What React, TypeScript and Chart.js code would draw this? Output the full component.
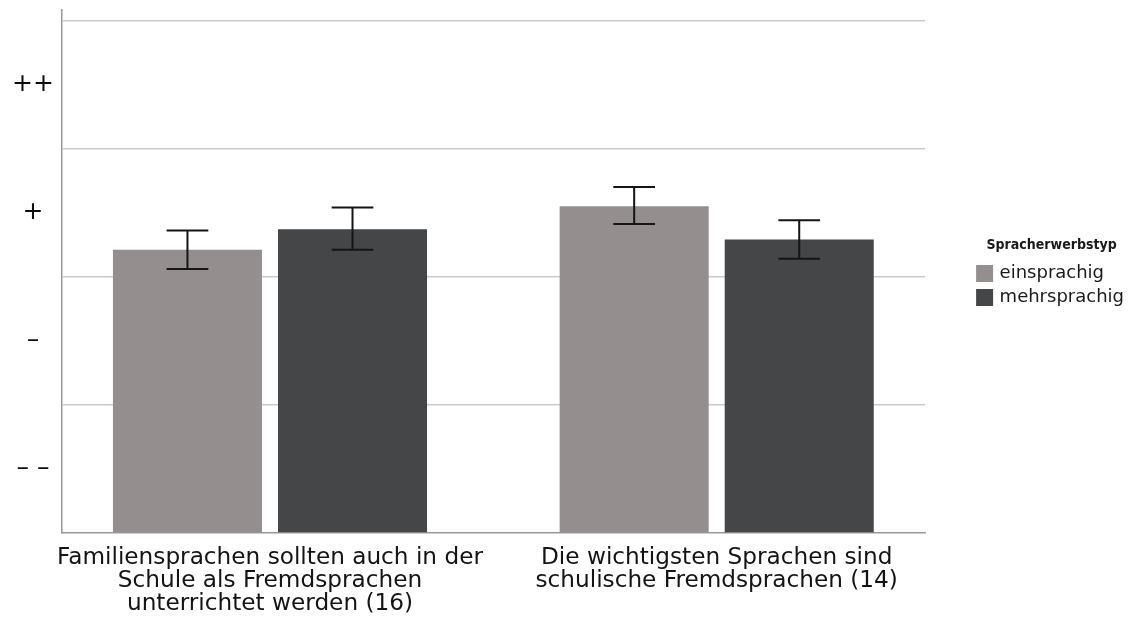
import React, { useEffect, useRef } from 'react';
import { Chart, registerables } from 'chart.js';

Chart.register(...registerables);

// ---- data ----
const categoryLabels: string[][] = [
  ['Familiensprachen sollten auch in der', 'Schule als Fremdsprachen', 'unterrichtet werden (16)'],
  ['Die wichtigsten Sprachen sind', 'schulische Fremdsprachen (14)'],
];
const categoryIndex = [0, 1];
const seriesNames = ['einsprachig', 'mehrsprachig'];
const seriesColors = ['#948f8e', '#454648'];

const einsprachigMean = [2.21, 2.55];
const einsprachigLow = [2.06, 2.41];
const einsprachigHigh = [2.36, 2.7];

const mehrsprachigMean = [2.37, 2.29];
const mehrsprachigLow = [2.21, 2.14];
const mehrsprachigHigh = [2.54, 2.44];

const yGridValues = [0, 1, 2, 3, 4];
const yLabelValues = [0.5, 1.5, 2.5, 3.5];
const yTickLabels = ['– –', '–', '+', '++'];
const legendTitle = 'Spracherwerbstyp';

const meanSeries = [einsprachigMean, mehrsprachigMean];
const lowSeries = [einsprachigLow, mehrsprachigLow];
const highSeries = [einsprachigHigh, mehrsprachigHigh];

const FONT = "'DejaVu Sans', 'Noto Sans', sans-serif";

const errorBarPlugin = {
  id: 'errorBars',
  afterDatasetsDraw(chart: any) {
    const ctx = chart.ctx;
    const yScale = chart.scales.y;
    ctx.save();
    ctx.strokeStyle = '#151515';
    ctx.lineWidth = 2;
    chart.data.datasets.forEach((_ds: any, di: number) => {
      const meta = chart.getDatasetMeta(di);
      meta.data.forEach((bar: any, i: number) => {
        const x = bar.x;
        const half = bar.width * 0.14;
        const yHi = yScale.getPixelForValue(highSeries[di][i]);
        const yLo = yScale.getPixelForValue(lowSeries[di][i]);
        ctx.beginPath();
        ctx.moveTo(x, yHi);
        ctx.lineTo(x, yLo);
        ctx.moveTo(x - half, yHi);
        ctx.lineTo(x + half, yHi);
        ctx.moveTo(x - half, yLo);
        ctx.lineTo(x + half, yLo);
        ctx.stroke();
      });
    });
    ctx.restore();
  },
};

export default function App() {
  const ref = useRef<HTMLCanvasElement | null>(null);

  useEffect(() => {
    if (!ref.current) return;
    const chart = new Chart(ref.current, {
      type: 'bar',
      data: {
        datasets: seriesNames.map((name, di) => ({
          label: name,
          data: categoryIndex.map((x, i) => ({ x, y: meanSeries[di][i] })),
          backgroundColor: seriesColors[di],
          borderWidth: 0,
          categoryPercentage: 0.739,
          barPercentage: 0.903,
        })),
      },
      options: {
        responsive: false,
        animation: false,
        layout: { padding: { top: 10, right: 6.4, bottom: 0, left: 0 } },
        plugins: {
          tooltip: { enabled: false },
          legend: {
            position: 'right',
            align: 'center',
            fullSize: false,
            maxWidth: 158,
            title: {
              display: true,
              text: legendTitle,
              position: 'center',
              color: '#1a1a1a',
              font: { family: "'DejaVu Sans Condensed', 'Liberation Sans Narrow', sans-serif", size: 14, weight: 'bold', lineHeight: 1.2 },
              padding: { top: 8, bottom: 3.2 },
            },
            labels: {
              boxWidth: 12,
              boxHeight: 12,
              padding: 6,
              color: '#1a1a1a',
              font: { family: FONT, size: 18 },
              generateLabels: (c: any) =>
                (Chart as any).defaults.plugins.legend.labels
                  .generateLabels(c)
                  .map((it: any) => ({ ...it, lineWidth: 5, strokeStyle: it.fillStyle })),
            },
          },
        },
        scales: {
          x: {
            type: 'linear',
            min: -0.4656,
            max: 1.4663,
            bounds: 'data',
            offset: false,
            afterBuildTicks: (s: any) => {
              s.ticks = categoryIndex.map((v) => ({ value: v }));
            },
            afterFit: (s: any) => {
              s.height = 84;
              s.paddingLeft = 0;
              s.paddingRight = 0;
            },
            grid: { display: false, drawTicks: false, offset: false },
            border: { display: true, color: '#999999', width: 1.5 },
            ticks: {
              autoSkip: false,
              maxRotation: 0,
              minRotation: 0,
              padding: 13,
              color: '#141414',
              font: { family: FONT, size: 23.2, lineHeight: 1.005 },
              callback: (v: any) => categoryLabels[categoryIndex.indexOf(Number(v))] ?? '',
            },
          },
          y: {
            type: 'linear',
            min: 0,
            max: 4.08,
            bounds: 'data',
            afterBuildTicks: (s: any) => {
              s.ticks = [...yGridValues, ...yLabelValues].sort((a, b) => a - b).map((v) => ({ value: v }));
            },
            afterFit: (s: any) => {
              s.width = 62;
              s.paddingTop = 0;
              s.paddingBottom = 0;
            },
            grid: {
              drawTicks: false,
              lineWidth: 1.5,
              color: (ctx: any) =>
                ctx.tick && yGridValues.includes(ctx.tick.value) && ctx.tick.value > 0 ? '#cccccc' : 'rgba(0,0,0,0)',
            },
            border: { display: true, color: '#999999', width: 1.5 },
            ticks: {
              autoSkip: false,
              crossAlign: 'center',
              padding: 8,
              color: '#0d0d0d',
              font: { family: FONT, size: 25 },
              callback: (v: any) => {
                const idx = yLabelValues.indexOf(Number(v));
                return idx >= 0 ? yTickLabels[idx] : '';
              },
            },
          },
          yRight: {
            type: 'linear',
            position: 'right',
            display: true,
            grid: { display: false, drawTicks: false },
            border: { display: false },
            ticks: { display: false },
            afterFit: (s: any) => {
              s.width = 47.6;
              s.paddingTop = 0;
              s.paddingBottom = 0;
            },
          },
        },
      } as any,
      plugins: [errorBarPlugin],
    });
    return () => chart.destroy();
  }, []);

  return (
    <div style={{ position: 'absolute', left: 0, top: 0, width: 1137, height: 617, background: '#ffffff' }}>
      <canvas ref={ref} width={1137} height={617} style={{ display: 'block' }} />
    </div>
  );
}
